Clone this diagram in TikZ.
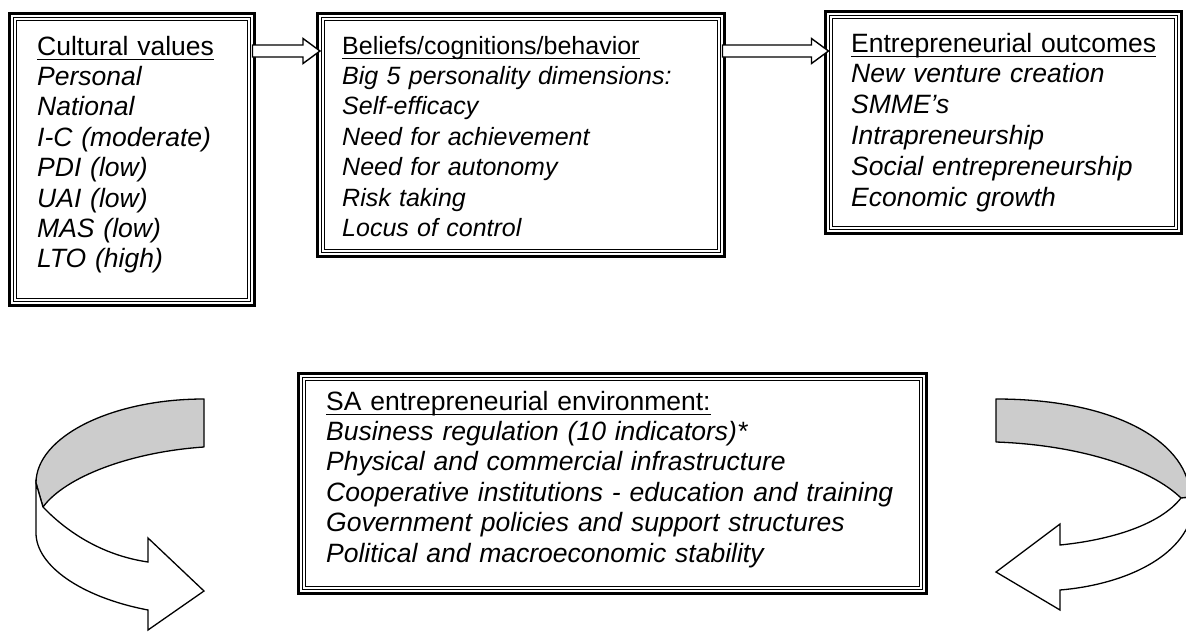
\documentclass[tikz,border=0pt]{standalone}
\usepackage{fontspec}
\setmainfont{Liberation Sans}
\usetikzlibrary{calc}
\newcommand{\hdline}[1]{\setbox0\hbox{#1}\rlap{\rule[-5.3pt]{\wd0}{1.7pt}}\box0}
\begin{document}
\begin{tikzpicture}[x=1pt,y=-1pt,
  tribox/.style={draw, rectangle, line width=3pt, outer sep=0pt, inner sep=0pt, fill=white},
  innerlines/.style={draw, line width=1pt, double distance=2pt, double=white},
  boxtext/.style={anchor=base west, inner sep=0pt, align=left, font=\fontsize{26.5}{30.4}\selectfont},
  barrow/.style={draw, line width=1.4pt, fill=white, line join=miter},
  bandgray/.style={draw, line width=1.3pt, fill=black!20, line join=round},
  bandwhite/.style={draw, line width=1.3pt, fill=white, line join=miter}]
\useasboundingbox (0,0) rectangle (1186,632);
\fill[white] (0,0) rectangle (1186,632);
\clip (0,0) rectangle (1186,632);

% boxes
\node[tribox, minimum width=245pt, minimum height=292pt] (b1) at (132,159.5) {};
\node[tribox, minimum width=407pt, minimum height=243pt] (b2) at (521,135) {};
\node[tribox, minimum width=355.5pt, minimum height=222pt] (b3) at (1003.25,122.5) {};
\node[tribox, minimum width=628pt, minimum height=220pt] (b4) at (612.5,483.5) {};
\foreach \b in {b1,b2,b3,b4}
  \draw[innerlines] ($(\b.north west)+(5.5,5.5)$) rectangle ($(\b.south east)+(-5.5,-5.5)$);

% texts
\node[boxtext, text width=215pt] (t1) at ($(b1.north west)+(27.5,41.5)$)
  {\hdline{Cultural values}\\\itshape Personal\\National\\I-C (moderate)\\PDI (low)\\UAI (low)\\MAS (low)\\LTO (high)};
\node[boxtext, text width=375pt, font=\fontsize{25}{30.4}\selectfont] (t2) at ($(b2.north west)+(24.5,40.5)$)
  {\hdline{Beliefs/cognitions/behavior}\\\itshape Big 5 personality dimensions:\\Self-efficacy\\Need for achievement\\Need for autonomy\\Risk taking\\Locus of control};
\node[boxtext, text width=325pt, font=\fontsize{26.5}{30.8}\selectfont] (t3) at ($(b3.north west)+(25.5,40.5)$)
  {\hdline{Entrepreneurial outcomes}\\\itshape New venture creation\\SMME’s\\Intrapreneurship\\Social entrepreneurship\\Economic growth};
\node[boxtext, text width=595pt] (t4) at ($(b4.north west)+(27.5,36.5)$)
  {\hdline{SA entrepreneurial environment:}\\\itshape Business regulation (10 indicators)*\\Physical and commercial infrastructure\\Cooperative institutions - education and training\\Government policies and support structures\\Political and macroeconomic stability};

% block arrows between boxes
\coordinate (ay) at (0,51);
\coordinate (a1s) at ($(b1.east |- ay)+(-2,0)$);
\coordinate (a1e) at ($(b2.west |- ay)+(2.5,0)$);
\coordinate (a2s) at ($(b2.east |- ay)+(-2,0)$);
\coordinate (a2e) at ($(b3.west |- ay)+(3,0)$);
\foreach \s/\e in {a1s/a1e,a2s/a2e}
  \draw[barrow] ($(\s)+(0,-6)$) -- ($(\e)+(-17,-6)$) -- ($(\e)+(-17,-12.5)$) -- (\e)
     -- ($(\e)+(-17,12.5)$) -- ($(\e)+(-17,6)$) -- ($(\s)+(0,6)$) -- cycle;

% left curved arrow
\draw[bandgray] (204,399) .. controls (111,399) and (36,437) .. (36,483) -- (43,507)
   .. controls (65,477) and (130,452) .. (204,447) -- cycle;
\draw[bandwhite] (36,483) -- (36,533) .. controls (36,565) and (80,597) .. (148,610)
   -- (148,630) -- (204,591) -- (148,538) -- (148,562)
   .. controls (100,555) and (65,530) .. (43,507) -- cycle;

% right curved arrow
\draw[bandgray] (996,399) .. controls (1120,399) and (1190,445) .. (1190,497) -- (1181,498)
   .. controls (1150,468) and (1080,445) .. (996,442) -- cycle;
\draw[bandwhite] (1181,498) .. controls (1160,525) and (1110,540) .. (1060,545)
   -- (1060,524) -- (996,572) -- (1060,610) -- (1060,590)
   .. controls (1120,585) and (1180,560) .. (1192,515) -- (1192,497) -- cycle;
\end{tikzpicture}
\end{document}
